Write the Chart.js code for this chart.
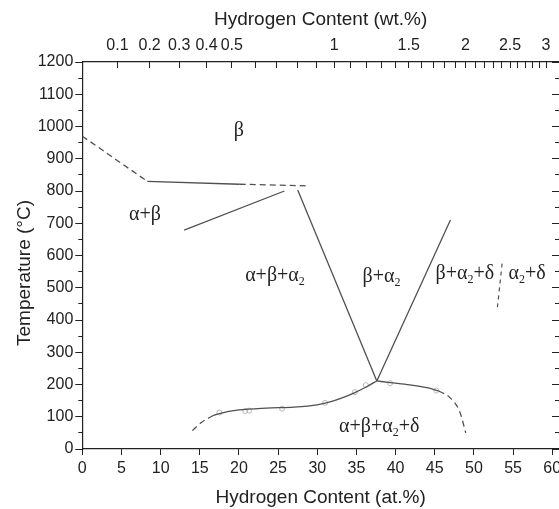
<!DOCTYPE html>
<html><head><meta charset="utf-8">
<script src="https://cdn.jsdelivr.net/npm/chart.js@4.4.1/dist/chart.umd.min.js"></script>
<style>html,body{margin:0;padding:0;background:#fff}canvas{display:block}</style>
</head><body>
<canvas id="c" width="559" height="509"></canvas>
<script>
// ---------- data ----------
const atTicks = [0, 5, 10, 15, 20, 25, 30, 35, 40, 45, 50, 55, 60];
const tempTicks = [0, 100, 200, 300, 400, 500, 600, 700, 800, 900, 1000, 1100, 1200];
const tempMinorTicks = [50, 150, 250, 350, 450, 550, 650, 750, 850, 950, 1050, 1150];
const wtTickValues = [0.1, 0.2, 0.3, 0.4, 0.5, 0.6, 0.7, 0.8, 0.9, 1.0, 1.1, 1.2, 1.3, 1.4, 1.5,
  1.6, 1.7, 1.8, 1.9, 2.0, 2.1, 2.2, 2.3, 2.4, 2.5, 2.6, 2.7, 2.8, 2.9, 3.0];
const wtTickLabels = ['0.1', '0.2', '0.3', '0.4', '0.5', '1', '1.5', '2', '2.5', '3'];
const H_MASS = 1.008, ALLOY_MASS = 47.3;

// phase boundaries [at.% H, °C]
const transusDashLeft = [[0, 970], [8.3, 830]];
const transusSolid = [[8.3, 830], [20.1, 821]];
const transusDashRight = [[20.1, 821], [28.6, 816]];
const alphaBetaLower = [[13.0, 679], [25.8, 800]];
const leftEutectoidLine = [[27.5, 803], [37.6, 211]];
const rightEutectoidLine = [[37.6, 211], [47.0, 710]];
const lowCurveDash = [[14.05, 57], [15.2, 82], [16.7, 104]];
const lowCurveSolid = [[16.7, 104], [17.5, 110], [20, 121], [23.5, 127], [27, 130], [30, 137],
  [31.5, 145], [33, 157], [34.8, 175], [36.3, 193], [37.6, 211]];
const rightCurveSolid = [[37.6, 211], [39.3, 206], [41.8, 199], [44, 190], [45.5, 180]];
const rightCurveDash = [[45.5, 180], [46.9, 160], [48.2, 115], [48.95, 50]];
const deltaBoundaryDash = [[53.6, 575], [53.0, 440]];
const measuredPoints = [[17.5, 113], [20.8, 118], [21.3, 119], [25.5, 125], [31.0, 143],
  [34.8, 176], [36.2, 198], [39.3, 204], [45.2, 181]];

const phaseLabelText = ['β', 'α+β', 'α+β+α_2', 'β+α_2', 'β+α_2+δ', 'α_2+δ', 'α+β+α_2+δ'];
const phaseLabelAt = [[20.0, 969], [8.0, 710], [24.6, 522], [38.2, 518], [48.85, 528], [56.8, 528], [37.9, 54]];

// ---------- helpers ----------
const X_MAX = 60.86;
function wtToAt(w) { const h = w / H_MASS; return 100 * h / (h + (100 - w) / ALLOY_MASS); }
const pts = a => a.map(p => ({x: p[0], y: p[1]}));
const LINE = '#505050', AX = '#222';
function lineDs(arr, dashed, curved) {
  return {data: pts(arr), showLine: true, pointRadius: 0, borderColor: LINE, borderWidth: 1.3,
    borderDash: dashed ? [6, 4] : [], tension: curved ? 0.4 : 0,
    cubicInterpolationMode: curved ? 'monotone' : 'default', order: 1};
}
function zeroPad(s) { s.paddingLeft = 0; s.paddingRight = 0; s.paddingTop = 0; s.paddingBottom = 0; }
const tickFont = {family: '"Liberation Sans", Arial, sans-serif', size: 16};
const titleFont = {family: '"Liberation Sans", Arial, sans-serif', size: 19};

const labelsPlugin = {
  id: 'phaseLabels',
  afterDatasetsDraw(chart) {
    const ctx = chart.ctx, xs = chart.scales.x, ys = chart.scales.y;
    const fs = 20, sub = 12;
    ctx.save();
    ctx.fillStyle = '#222';
    ctx.textBaseline = 'alphabetic';
    phaseLabelText.forEach((t, i) => {
      const parts = t.split(/(_\d)/).filter(p => p.length);
      const segs = parts.map(p => p[0] === '_' ? {s: p.slice(1), sub: true} : {s: p, sub: false});
      let w = 0;
      segs.forEach(sg => { ctx.font = (sg.sub ? sub : fs) + 'px "Liberation Serif", "Times New Roman", serif'; sg.w = ctx.measureText(sg.s).width; w += sg.w; });
      let x = xs.getPixelForValue(phaseLabelAt[i][0]) - w / 2;
      const y = ys.getPixelForValue(phaseLabelAt[i][1]);
      segs.forEach(sg => {
        ctx.font = (sg.sub ? sub : fs) + 'px "Liberation Serif", "Times New Roman", serif';
        ctx.fillText(sg.s, x, sg.sub ? y + 4 : y);
        x += sg.w;
      });
    });
    // y axis title
    ctx.font = '19px "Liberation Sans", Arial, sans-serif';
    ctx.textAlign = 'center';
    ctx.textBaseline = 'middle';
    ctx.translate(24.6, 273);
    ctx.rotate(-Math.PI / 2);
    ctx.fillText('Temperature (°C)', 0, 0);
    ctx.restore();
  }
};

new Chart(document.getElementById('c'), {
  type: 'scatter',
  data: {
    datasets: [
      lineDs(transusDashLeft, true, false),
      lineDs(transusSolid, false, false),
      lineDs(transusDashRight, true, false),
      lineDs(alphaBetaLower, false, false),
      lineDs(leftEutectoidLine, false, false),
      lineDs(rightEutectoidLine, false, false),
      lineDs(lowCurveDash, true, true),
      lineDs(lowCurveSolid, false, true),
      lineDs(rightCurveSolid, false, true),
      lineDs(rightCurveDash, true, true),
      Object.assign(lineDs(deltaBoundaryDash, true, false), {borderDash: [4, 4], borderWidth: 1.2}),
      {data: pts(measuredPoints), pointRadius: 2.5, pointBorderWidth: 1, pointBorderColor: '#b8b8b8',
        pointBackgroundColor: 'rgba(0,0,0,0)', showLine: false, order: 2}
    ]
  },
  options: {
    responsive: false, animation: false, devicePixelRatio: 1,
    layout: {padding: 0, autoPadding: false},
    plugins: {legend: {display: false}, tooltip: {enabled: false}},
    scales: {
      x: {
        type: 'linear', position: 'bottom', min: 0, max: X_MAX,
        afterBuildTicks: s => { s.ticks = atTicks.map(v => ({value: v})); },
        ticks: {font: tickFont, color: AX, padding: 4, maxRotation: 0, autoSkip: false, callback: v => String(v)},
        grid: {drawOnChartArea: false, drawTicks: true, tickLength: 6, tickColor: AX, tickWidth: 1},
        border: {display: true, color: AX, width: 1.2},
        title: {display: true, text: 'Hydrogen Content (at.%)', font: titleFont, color: AX, padding: {top: 0, bottom: 0}},
        afterFit: s => { s.height = 60; zeroPad(s); }
      },
      xTop: {
        axis: 'x', type: 'linear', position: 'top', min: 0, max: X_MAX,
        afterBuildTicks: s => { s.ticks = wtTickValues.map(w => ({value: wtToAt(w)})); },
        ticks: {font: tickFont, color: AX, padding: 13, maxRotation: 0, autoSkip: false,
          callback: (v, i) => { const w = String(+wtTickValues[i].toFixed(1)); return wtTickLabels.includes(w) ? w : ''; }},
        grid: {drawOnChartArea: false, drawTicks: true, tickLength: -6, tickColor: AX, tickWidth: 1},
        border: {display: true, color: AX, width: 1.2},
        title: {display: true, text: 'Hydrogen Content (wt.%)', font: titleFont, color: AX, padding: {top: 8.5, bottom: 0}},
        afterFit: s => { s.height = 62; zeroPad(s); }
      },
      y: {
        type: 'linear', position: 'left', min: 0, max: 1200, weight: 1,
        afterBuildTicks: s => { s.ticks = tempTicks.map(v => ({value: v})); },
        ticks: {font: tickFont, color: AX, padding: 2, callback: v => String(v)},
        grid: {drawOnChartArea: false, drawTicks: true, tickLength: 7, tickColor: AX, tickWidth: 1},
        border: {display: true, color: AX, width: 1.2},
        afterFit: s => { s.width = 82.3; zeroPad(s); }
      },
      yMinL: {
        axis: 'y', type: 'linear', position: 'left', min: 0, max: 1200, weight: 0,
        afterBuildTicks: s => { s.ticks = tempMinorTicks.map(v => ({value: v})); },
        ticks: {display: false},
        grid: {drawOnChartArea: false, drawTicks: true, tickLength: 4, tickColor: AX, tickWidth: 1},
        border: {display: false},
        afterFit: s => { s.width = 0; zeroPad(s); }
      },
      yR: {
        axis: 'y', type: 'linear', position: 'right', min: 0, max: 1200, weight: 1,
        afterBuildTicks: s => { s.ticks = tempTicks.map(v => ({value: v})); },
        ticks: {display: false},
        grid: {drawOnChartArea: false, drawTicks: true, tickLength: -7, tickColor: AX, tickWidth: 1},
        border: {display: false},
        afterFit: s => { s.width = 0; zeroPad(s); }
      },
      yMinR: {
        axis: 'y', type: 'linear', position: 'right', min: 0, max: 1200, weight: 0,
        afterBuildTicks: s => { s.ticks = tempMinorTicks.map(v => ({value: v})); },
        ticks: {display: false},
        grid: {drawOnChartArea: false, drawTicks: true, tickLength: -4, tickColor: AX, tickWidth: 1},
        border: {display: false},
        afterFit: s => { s.width = 0; zeroPad(s); }
      }
    }
  },
  plugins: [labelsPlugin]
});
</script>
</body></html>
